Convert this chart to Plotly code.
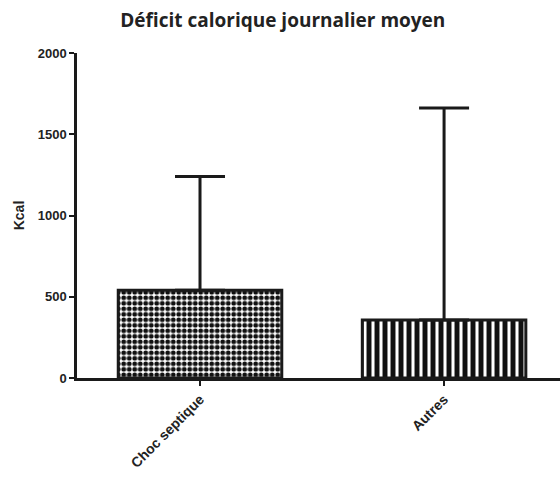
import plotly.graph_objects as go

# Mean daily calorie deficit per group, with upper SD whisker
categories = ["Choc septique", "Autres"]
means = [540, 357]
sd_upper = [700, 1305]
y_ticks = [0, 500, 1000, 1500, 2000]

fig = go.Figure()

patterns = [
    dict(shape=".", size=5.5, solidity=0.6, fgcolor="#111111", bgcolor="white",
         fgopacity=1, fillmode="overlay"),
    dict(shape="|", size=8, solidity=0.62, fgcolor="#111111", bgcolor="white",
         fgopacity=1, fillmode="overlay"),
]

for i, cat in enumerate(categories):
    fig.add_trace(go.Bar(
        x=[cat], y=[means[i]],
        width=0.67,
        marker=dict(color="white", pattern=patterns[i],
                    line=dict(color="#1a1a1a", width=3)),
        error_y=dict(type="data", symmetric=False, array=[sd_upper[i]], arrayminus=[0],
                     color="#1a1a1a", thickness=3, width=25),
        showlegend=False,
    ))

fig.update_layout(
    width=560, height=481,
    margin=dict(l=77, r=0, t=53, b=103),
    paper_bgcolor="white", plot_bgcolor="white",
    title=dict(text="<b>Déficit calorique journalier moyen</b>", x=0.505, xanchor="center",
               y=0.958, yanchor="middle",
               font=dict(family="Open Sans", size=19, color="#222222")),
    barmode="overlay",
    font=dict(family="Liberation Sans", color="#222222"),
)

fig.update_xaxes(
    type="category", range=[-0.504, 1.475],
    showline=True, linecolor="#1a1a1a", linewidth=2.5,
    ticks="outside", ticklen=5, tickwidth=2, tickcolor="#1a1a1a",
    tickangle=-45, tickfont=dict(family="Liberation Sans", size=14, color="#222222"),
    ticktext=[f"<b>{c}</b>" for c in categories], tickvals=categories,
    showgrid=False, zeroline=False,
)

fig.update_yaxes(
    range=[0, 2000], tickvals=y_ticks, ticktext=[f"<b>{t}</b>" for t in y_ticks],
    showline=True, linecolor="#1a1a1a", linewidth=2.5,
    ticks="outside", ticklen=5, tickwidth=2, tickcolor="#1a1a1a",
    tickfont=dict(family="Liberation Sans", size=13, color="#222222"),
    title=dict(text="<b>Kcal</b>", font=dict(family="Liberation Sans", size=14, color="#222222"), standoff=10),
    showgrid=False, zeroline=False,
)

fig.write_html("out.html")
